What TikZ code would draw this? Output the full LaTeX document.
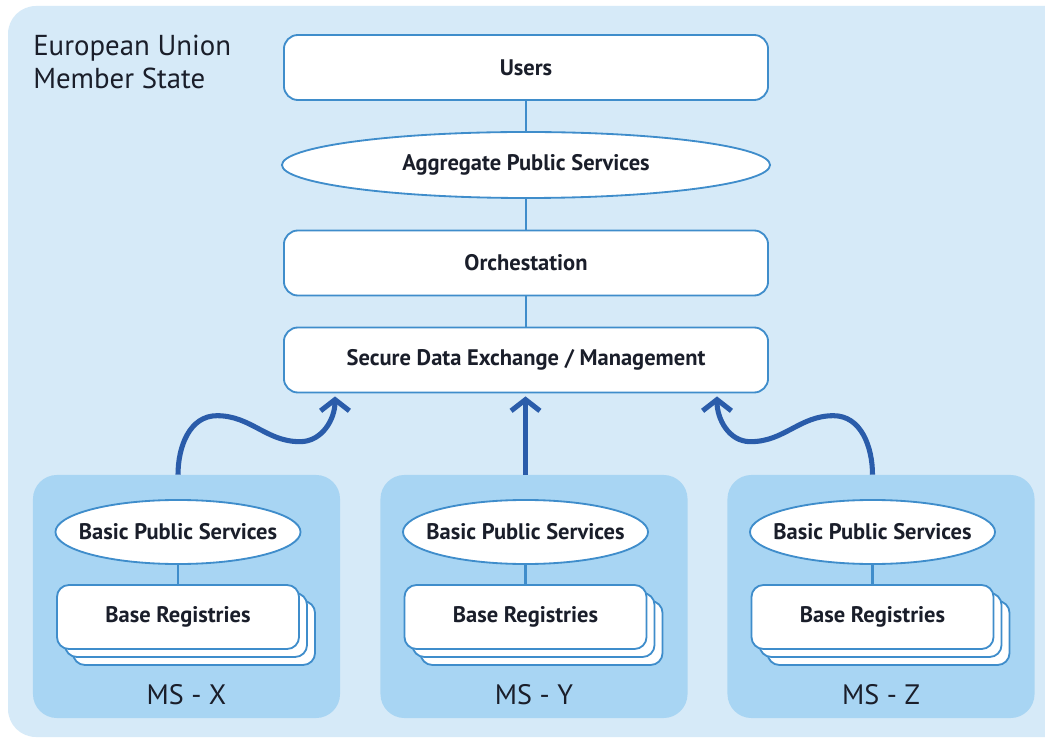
\documentclass[tikz,border=0pt]{standalone}
\usepackage{fontspec}
\setmainfont{PT Sans}
\usetikzlibrary{arrows.meta,positioning,calc,shapes.geometric}
\definecolor{euPanel}{HTML}{D6EAF8}
\definecolor{msFill}{HTML}{A8D5F3}
\definecolor{euLine}{HTML}{3F8DCB}
\definecolor{euArrow}{HTML}{2A5CAA}
\definecolor{euText}{HTML}{1A1E2A}
\tikzset{
  layerBox/.style={draw=euLine, line width=1.3pt, rounded corners=0.35cm,
                   fill=white, text=euText, font=\bfseries\fontsize{16}{19}\selectfont,
                   minimum width=12.1cm, minimum height=1.625cm},
  layerOval/.style={ellipse, draw=euLine, line width=1.3pt, fill=white, inner sep=0pt,
                    text=euText, font=\bfseries\fontsize{16}{19}\selectfont,
                    minimum width=12.2cm, minimum height=1.65cm},
  stateBox/.style={fill=msFill, rounded corners=0.6cm,
                   minimum width=7.675cm, minimum height=6.075cm},
  serviceOval/.style={ellipse, draw=euLine, line width=1.3pt, fill=white,
                      inner xsep=-0.4cm, inner ysep=0pt,
                      text=euText, font=\bfseries\fontsize{16}{19}\selectfont,
                      minimum width=6.125cm, minimum height=1.6cm},
  registryBox/.style={draw=euLine, line width=1.3pt, rounded corners=0.3cm,
                      fill=white, text=euText, font=\bfseries\fontsize{16}{19}\selectfont,
                      minimum width=6.05cm, minimum height=1.6cm},
  stateLabel/.style={text=euText, font=\fontsize{20}{23}\selectfont},
  panelTitle/.style={text=euText, font=\fontsize{20.5}{23.5}\selectfont, align=left, inner sep=0pt},
  link/.style={draw=euLine, line width=1.6pt},
  feed/.style={-{Straight Barb[length=2.8mm,width=7.2mm]}, draw=euArrow, line width=3.6pt}
}

\begin{document}
\begin{tikzpicture}[x=0.025cm, y=0.025cm]
\useasboundingbox (0,0) rectangle (1045,738);
\fill[white] (0,0) rectangle (1045,738);

% ------------------------------------------------------------
% Member state panel
% ------------------------------------------------------------
\fill[euPanel, rounded corners=0.7cm] (8,1) rectangle (1080,732);
\node[panelTitle, anchor=north west] (title) at (33,703) {European Union\\Member State};

% ------------------------------------------------------------
% Layer stack
% ------------------------------------------------------------
\node[layerBox] (users) at (526,670.5) {Users};
\node[layerOval] (aggr) at (526,573) {Aggregate Public Services};
\node[layerBox] (orch) at (526,475) {Orchestation};
\node[layerBox] (sde) at (526,378) {Secure Data Exchange / Management};

\draw[link] (users) -- (aggr);
\draw[link] (aggr) -- (orch);
\draw[link] (orch) -- (sde);

% ------------------------------------------------------------
% Member states with basic services and base registries
% ------------------------------------------------------------
\foreach \ms/\cx/\tag in {msx/186.5/X, msy/534/Y, msz/881/Z} {
  \node[stateBox] (\ms) at (\cx,141.5) {};
  \node[stateLabel] (\ms-label) at (\cx,43) {MS - \tag};
  % stacked registry sheets
  \node[registryBox] (\ms-reg3) at (\cx+7.5,105) {};
  \node[registryBox] (\ms-reg2) at (\cx-0.5,113) {};
  \node[registryBox] (\ms-reg) at (\cx-8.5,121) {Base Registries};
  \node[serviceOval] (\ms-bps) at (\cx-8.5,206) {Basic Public Services};
  \draw[link] (\ms-bps) -- (\ms-reg);
}

% ------------------------------------------------------------
% Feeds into the secure data exchange
% ------------------------------------------------------------
\coordinate (tipL) at ($(sde.south)+(-191,-3)$);
\coordinate (tipR) at ($(sde.south)+(191,-3)$);

\draw[feed] (msx-bps.north |- msx.north) to[out=90,in=180] ++(39,59)
  to[out=0,in=180] ++(83,-26) to[out=0,in=-90] (tipL);
\draw[feed] (msy-bps.north |- msy.north) -- (msy-bps.north |- tipL);
\draw[feed] (msz-bps.north |- msz.north) to[out=90,in=0] ++(-39,59)
  to[out=180,in=0] ++(-83,-26) to[out=180,in=-90] (tipR);

\end{tikzpicture}
\end{document}
